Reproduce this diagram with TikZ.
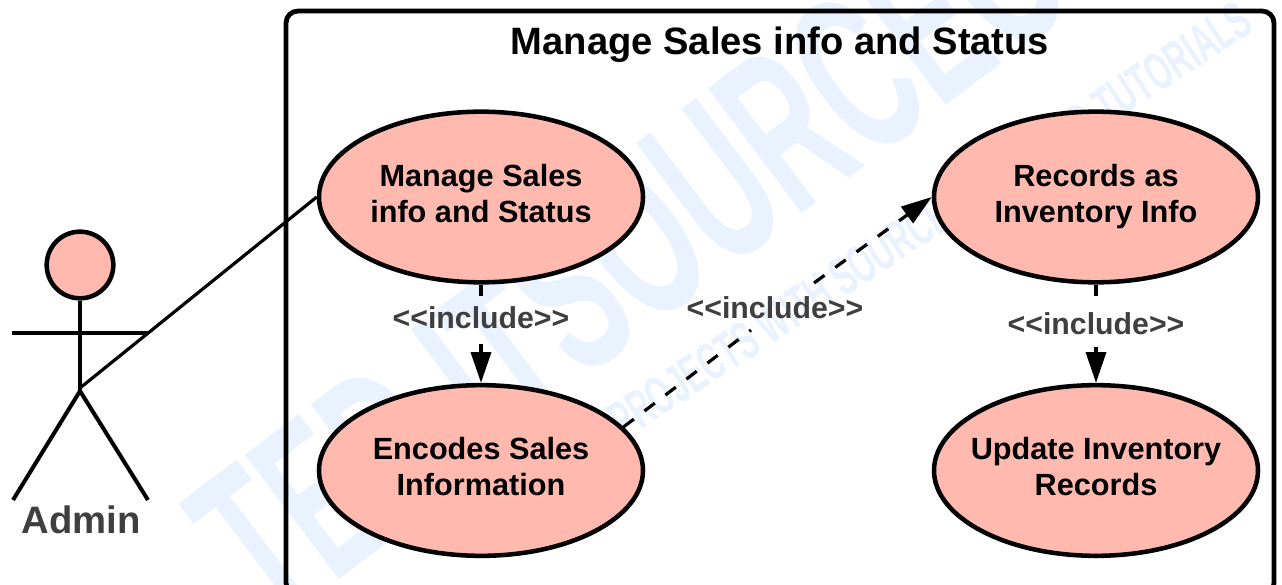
\documentclass[tikz,border=0pt]{standalone}
\usepackage{fontspec}
\setmainfont{Liberation Sans}
\usetikzlibrary{shapes.geometric,arrows.meta}
\definecolor{salmon}{HTML}{FFB9AE}
\definecolor{wm}{HTML}{E9F2FE}
\definecolor{labelgrey}{HTML}{3F3F3F}
\newcommand{\ucl}[2]{\begin{tabular}{@{}c@{}}#1\\#2\end{tabular}}
\tikzset{
  usecase/.style={ellipse,draw=black,fill=salmon,line width=3.4pt,minimum width=243pt,minimum height=128pt,inner sep=-40pt,font=\fontsize{23}{27}\selectfont\bfseries},
  inc/.style={inner sep=0pt,text=labelgrey,font=\fontsize{22.7}{26}\selectfont\bfseries},
  link/.style={draw=black,line width=2.4pt},
  incarrow/.style={link,-{Triangle[length=23pt,width=15pt]}},
  diagdash/.style={dash pattern=on 9.75pt off 10pt},
  stick/.style={draw=black,line width=3pt},
  watermark/.style={text=wm,inner sep=0pt}
}
\begin{document}
\begin{tikzpicture}[x=0.75pt,y=-0.75pt]
\useasboundingbox (0,0) rectangle (1282,585);
\clip (0,0) rectangle (1282,585);
\fill[white] (0,0) rectangle (1282,585);
% watermark
\node[watermark,rotate=37,font=\fontsize{170}{170}\selectfont\bfseries,xscale=0.55] (wmbig) at (890,50) {SOURCECODE};
\node[watermark,rotate=37,anchor=east,font=\fontsize{170}{170}\selectfont\bfseries,xscale=0.55] (wmbigb) at (540,330) {TED IT};
\node[watermark,rotate=33,font=\fontsize{40}{40}\selectfont\bfseries,xscale=0.58] (wmsmall) at (930,220) {PROJECTS WITH SOURCE CODE AND TUTORIALS};
% system frame
\draw[draw=black,line width=3.6pt,rounded corners=9pt] (286,11) rectangle (1274,595);
\node[font=\fontsize{28.6}{32}\selectfont\bfseries,inner sep=0pt] (title) at (780,45) {Manage Sales info and Status};
% use cases
\node[usecase] (manage) at (481,197) {\ucl{Manage Sales}{info and Status}};
\node[usecase] (encode) at (481,470.5) {\ucl{Encodes Sales}{Information}};
\node[usecase] (records) at (1096,197) {\ucl{Records as}{Inventory Info}};
\node[usecase] (update) at (1096,470.5) {\ucl{Update Inventory}{Records}};
% actor
\node[circle,draw=black,fill=salmon,line width=3.4pt,minimum size=50pt,inner sep=0pt] (head) at (80,265) {};
\coordinate (hip) at (80,391);
\coordinate (armL) at (12,333);
\coordinate (armR) at (148,333);
\coordinate (legL) at (13,500);
\coordinate (legR) at (148,500);
\draw[stick,line width=2.6pt] (head.south) -- (hip);
\draw[stick,line width=3.6pt] (armL) -- (armR);
\draw[stick] (legL) -- (hip) -- (legR);
\node[text=labelgrey,font=\fontsize{28.7}{32}\selectfont\bfseries,inner sep=0pt] (admin) at (81,520) {Admin};
% connectors
\draw[link] (hip) ++(0,-3) -- (manage.west);
\coordinate (s1a) at (481,296);
\coordinate (s1b) at (481,344);
\coordinate (s2a) at (1096,296);
\coordinate (s2b) at (1096,347);
\coordinate (s3a) at (751,330);
\coordinate (s3b) at (814,283);
\draw[link] (manage.south) -- (s1a);
\draw[incarrow] (s1b) -- (encode.north);
\draw[link] (records.south) -- (s2a);
\draw[incarrow] (s2b) -- (update.north);
\draw[link,diagdash] (encode.17) -- (s3a);
\draw[incarrow,diagdash] (s3b) -- (records.west);
\node[inc] (l1) at (481,318) {<{}<include>{}>};
\node[inc] (l2) at (1096,324) {<{}<include>{}>};
\node[inc] (l3) at (775,308) {<{}<include>{}>};
\end{tikzpicture}
\end{document}
